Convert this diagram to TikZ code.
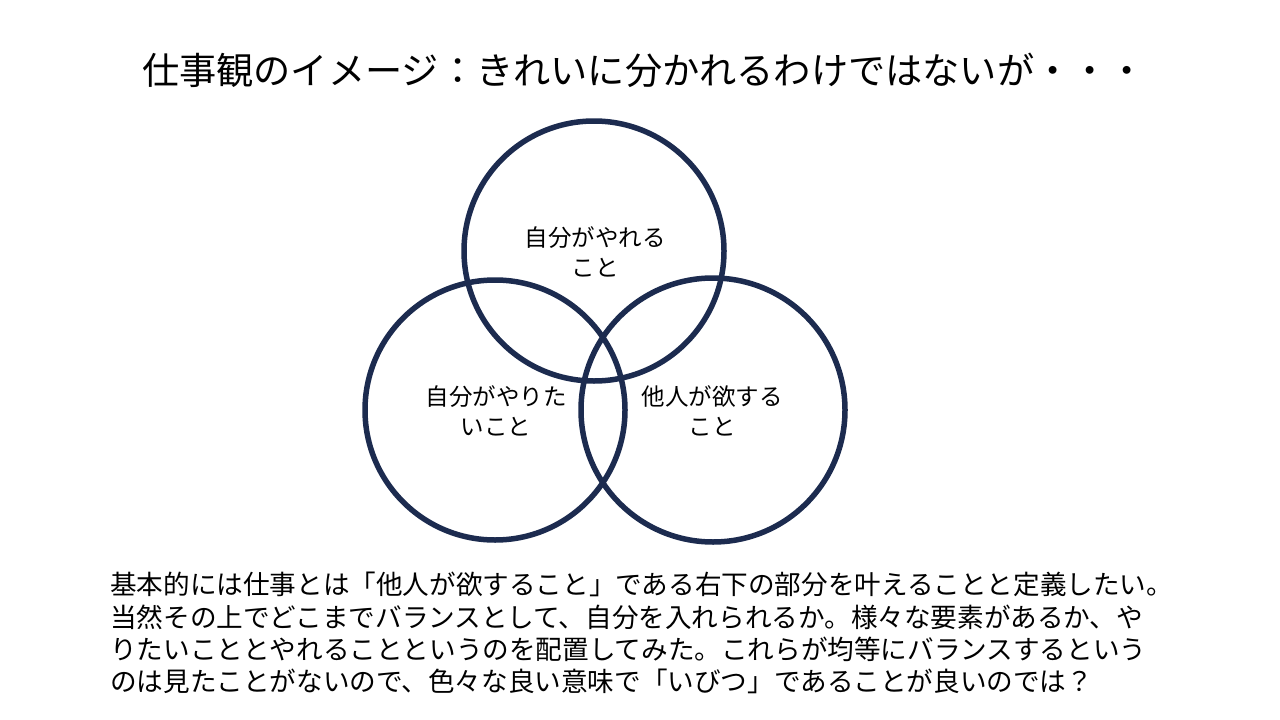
\documentclass[tikz,border=0pt]{standalone}
\usepackage{fontspec}
\setmainfont{Noto Sans CJK JP}
\definecolor{navy}{HTML}{1C2B4F}
\tikzset{
  ring/.style={draw=navy, line width=5.5pt},
  label/.style={align=center, font=\fontsize{23.5}{30}\selectfont, inner sep=0pt}
}
\begin{document}
\begin{tikzpicture}[x=1pt, y=-1pt]
  \useasboundingbox (0,0) rectangle (1280,720);

  % Title
  \node[inner sep=0pt, font=\fontsize{37.2}{44}\selectfont] (title) at (644,70) {仕事観のイメージ：きれいに分かれるわけではないが・・・};

  % Circles
  \draw[ring] (594,251) circle (130);
  \draw[ring] (495,410) circle (130);
  \draw[ring] (713,410) circle (132);

  % Labels
  \node[label] (can) at (595,252) {自分がやれる\\こと};
  \node[label] (want) at (496,411) {自分がやりた\\いこと};
  \node[label] (need) at (712,411) {他人が欲する\\こと};

  % Text
  \node[anchor=north west, align=left, inner sep=0pt, font=\fontsize{26.6}{32.3}\selectfont] (body) at (110,572)
  {基本的には仕事とは「他人が欲すること」である右下の部分を叶えることと定義したい。\\
   当然その上でどこまでバランスとして、自分を入れられるか。様々な要素があるか、や\\
   りたいこととやれることというのを配置してみた。これらが均等にバランスするという\\
   のは見たことがないので、色々な良い意味で「いびつ」であることが良いのでは？};
\end{tikzpicture}
\end{document}
